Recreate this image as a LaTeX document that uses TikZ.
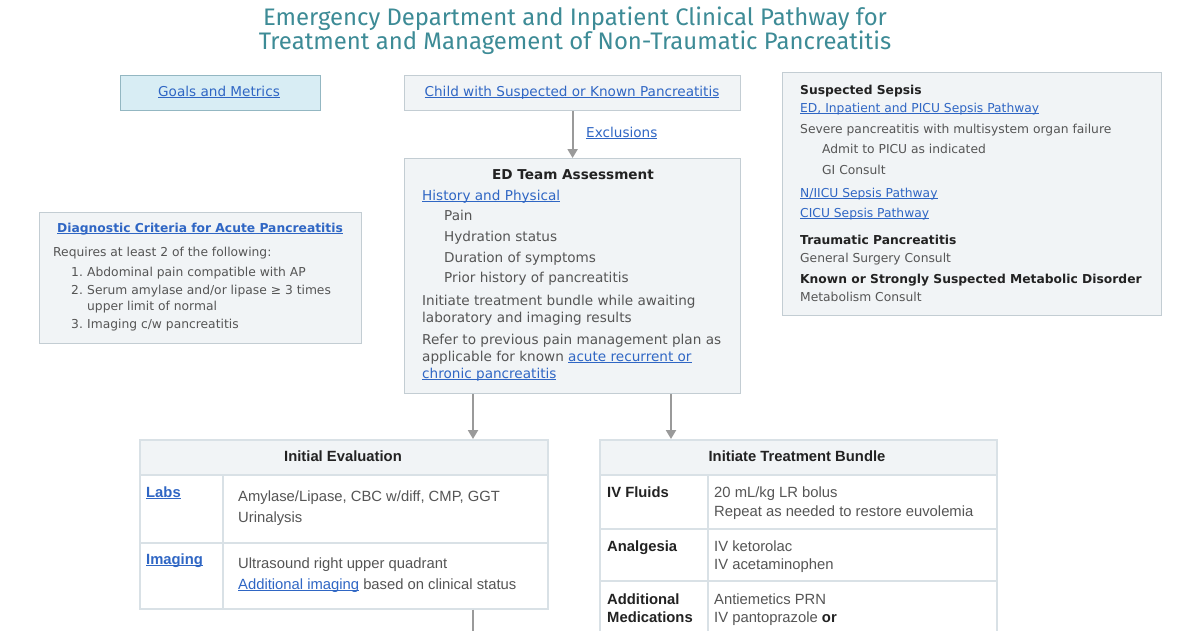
\documentclass[tikz,border=0pt]{standalone}
\usepackage{fontspec}
\setmainfont{DejaVu Sans}
\newfontfamily\titlefont{Fira Sans}
\newfontfamily\tabfont{Liberation Sans}
\usetikzlibrary{arrows.meta}
\definecolor{titlecol}{HTML}{3D8B96}
\definecolor{goalsfill}{HTML}{D8EDF4}
\definecolor{goalsborder}{HTML}{93B7C2}
\definecolor{boxfill}{HTML}{F1F4F6}
\definecolor{boxborder}{HTML}{C3CDD3}
\definecolor{linkblue}{HTML}{2F66C4}
\definecolor{txtgray}{HTML}{555555}
\definecolor{darktxt}{HTML}{222222}
\definecolor{arrgray}{HTML}{9A9A9A}
\definecolor{tabborder}{HTML}{D9E1E6}
\definecolor{tabhead}{HTML}{F1F4F6}
\newcommand\lnk[1]{\textcolor{linkblue}{\underline{\smash{#1}}}}
\begin{document}
\begin{tikzpicture}[x=1pt,y=-1pt,
  box/.style={draw=boxborder, fill=boxfill, line width=1.2pt, anchor=north west, inner sep=0},
  cell/.style={draw=tabborder, fill=white, line width=1.5pt, anchor=north west, inner sep=0},
  hcell/.style={cell, fill=tabhead},
  tx/.style={anchor=base west, inner sep=0, text=txtgray, font=\fontsize{12.3}{14}\selectfont},
  txb/.style={tx, text=darktxt, font=\bfseries\fontsize{12.3}{14}\selectfont},
  edt/.style={tx, font=\fontsize{13.6}{15}\selectfont},
  tb/.style={anchor=base west, inner sep=0, text=txtgray, font=\tabfont\fontsize{14.8}{17}\selectfont},
  tbb/.style={tb, text=darktxt, font=\tabfont\bfseries\fontsize{14.8}{17}\selectfont},
  ttl/.style={anchor=base, inner sep=0, text=titlecol, font=\titlefont\fontsize{23.9}{26}\selectfont},
  arr/.style={draw=arrgray, line width=2pt, -{Triangle[width=10pt,length=9pt]}},
  plain/.style={draw=arrgray, line width=2pt}]
\useasboundingbox (0,0) rectangle (1200,630);
\fill[white] (0,0) rectangle (1200,630);

% title
\node[ttl] (t1) at (575,25) {Emergency Department and Inpatient Clinical Pathway for};
\node[ttl] (t2) at (575,49) {Treatment and Management of Non-Traumatic Pancreatitis};

% goals
\node[box, fill=goalsfill, draw=goalsborder, minimum width=200pt, minimum height=35pt] (goals) at (120,75) {};
\node[edt, anchor=base] (goalst) at (219,96) {\lnk{Goals and Metrics}};

% child
\node[box, minimum width=336pt, minimum height=35pt] (child) at (404,75) {};
\node[edt, anchor=base] (childt) at (572,96) {\lnk{Child with Suspected or Known Pancreatitis}};

% ED box
\node[box, minimum width=336pt, minimum height=235pt] (ed) at (404,158) {};
\draw[arr] (child.south) -- (ed.north);
\node[edt] (excl) at (586,137) {\lnk{Exclusions}};
\node[edt, anchor=base, text=darktxt, font=\bfseries\fontsize{13.6}{15}\selectfont] (edh) at (573,179) {ED Team Assessment};
\node[edt] (e1) at (422,200) {\lnk{History and Physical}};
\node[edt] (e2) at (444,220) {Pain};
\node[edt] (e3) at (444,241) {Hydration status};
\node[edt] (e4) at (444,262) {Duration of symptoms};
\node[edt] (e5) at (444,282) {Prior history of pancreatitis};
\node[edt] (e6) at (422,305) {Initiate treatment bundle while awaiting};
\node[edt] (e7) at (422,322) {laboratory and imaging results};
\node[edt] (e8) at (422,344) {Refer to previous pain management plan as};
\node[edt] (e9) at (422,361) {applicable for known \lnk{acute recurrent or}};
\node[edt] (e10) at (422,378) {\lnk{chronic pancreatitis}};

% right box
\node[box, minimum width=379pt, minimum height=243pt] (rb) at (782,72) {};
\node[txb] (r1) at (800,94) {Suspected Sepsis};
\node[tx] (r2) at (800,112) {\lnk{ED, Inpatient and PICU Sepsis Pathway}};
\node[tx] (r3) at (800,133) {Severe pancreatitis with multisystem organ failure};
\node[tx] (r4) at (822,153) {Admit to PICU as indicated};
\node[tx] (r5) at (822,174) {GI Consult};
\node[tx] (r6) at (800,197) {\lnk{N/IICU Sepsis Pathway}};
\node[tx] (r7) at (800,217) {\lnk{CICU Sepsis Pathway}};
\node[txb] (r8) at (800,244) {Traumatic Pancreatitis};
\node[tx] (r9) at (800,262) {General Surgery Consult};
\node[txb] (r10) at (800,283) {Known or Strongly Suspected Metabolic Disorder};
\node[tx] (r11) at (800,301) {Metabolism Consult};

% diagnostic box
\node[box, minimum width=322pt, minimum height=131pt] (dg) at (39,212) {};
\node[tx, anchor=base] (d0) at (200,232) {\lnk{\bfseries Diagnostic Criteria for Acute Pancreatitis}};
\node[tx] (d1) at (53,256) {Requires at least 2 of the following:};
\node[tx] (d2n) at (71,276) {1.};
\node[tx] (d2) at (87,276) {Abdominal pain compatible with AP};
\node[tx] (d3n) at (71,294) {2.};
\node[tx] (d3) at (87,294) {Serum amylase and/or lipase \char"2265{} 3 times};
\node[tx] (d3b) at (87,310) {upper limit of normal};
\node[tx] (d4n) at (71,328) {3.};
\node[tx] (d4) at (87,328) {Imaging c/w pancreatitis};

% initial evaluation table
\node[cell, minimum width=408pt, minimum height=169pt] (ie) at (139,439) {};
\node[hcell, minimum width=408pt, minimum height=35pt] (ieh) at (139,439) {};
\node[cell, minimum width=83pt, minimum height=68pt] (iel1) at (139,474) {};
\node[cell, minimum width=325pt, minimum height=68pt] (iec1) at (222,474) {};
\node[cell, minimum width=83pt, minimum height=66pt] (iel2) at (139,542) {};
\node[cell, minimum width=325pt, minimum height=66pt] (iec2) at (222,542) {};
\node[tbb, anchor=base] (ieht) at (343,461) {Initial Evaluation};
\node[tbb] (labs) at (146,497) {\lnk{Labs}};
\node[tb] (l1) at (238,501) {Amylase/Lipase, CBC w/diff, CMP, GGT};
\node[tb] (l2) at (238,522) {Urinalysis};
\node[tbb] (img) at (146,564) {\lnk{Imaging}};
\node[tb] (i1) at (238,568) {Ultrasound right upper quadrant};
\node[tb] (i2) at (238,589) {\lnk{Additional imaging} based on clinical status};

% treatment table
\node[cell, minimum width=397pt, minimum height=220pt] (tr) at (599,439) {};
\node[hcell, minimum width=397pt, minimum height=35pt] (trh) at (599,439) {};
\node[cell, minimum width=108pt, minimum height=54pt] (trl1) at (599,474) {};
\node[cell, minimum width=289pt, minimum height=54pt] (trc1) at (707,474) {};
\node[cell, minimum width=108pt, minimum height=52pt] (trl2) at (599,528) {};
\node[cell, minimum width=289pt, minimum height=52pt] (trc2) at (707,528) {};
\node[cell, minimum width=108pt, minimum height=80pt] (trl3) at (599,580) {};
\node[cell, minimum width=289pt, minimum height=80pt] (trc3) at (707,580) {};
\node[tbb, anchor=base] (trht) at (797,461) {Initiate Treatment Bundle};
\node[tbb] (f0) at (607,497) {IV Fluids};
\node[tb] (f1) at (714,497) {20 mL/kg LR bolus};
\node[tb] (f2) at (714,516) {Repeat as needed to restore euvolemia};
\node[tbb] (a0) at (607,551) {Analgesia};
\node[tb] (a1) at (714,551) {IV ketorolac};
\node[tb] (a2) at (714,569) {IV acetaminophen};
\node[tbb] (m0) at (607,604) {Additional};
\node[tbb] (m0b) at (607,622) {Medications};
\node[tb] (m1) at (714,604) {Antiemetics PRN};
\node[tb] (m2) at (714,622) {IV pantoprazole \textbf{\color{darktxt}or}};

% connectors
\coordinate (c1) at (473,0);
\coordinate (c2) at (671,0);
\coordinate (c3) at (473,640);
\draw[arr] (ed.south -| c1) -- (ie.north -| c1);
\draw[arr] (ed.south -| c2) -- (tr.north -| c2);
\draw[plain] (ie.south -| c3) -- (c3);
\end{tikzpicture}
\end{document}
